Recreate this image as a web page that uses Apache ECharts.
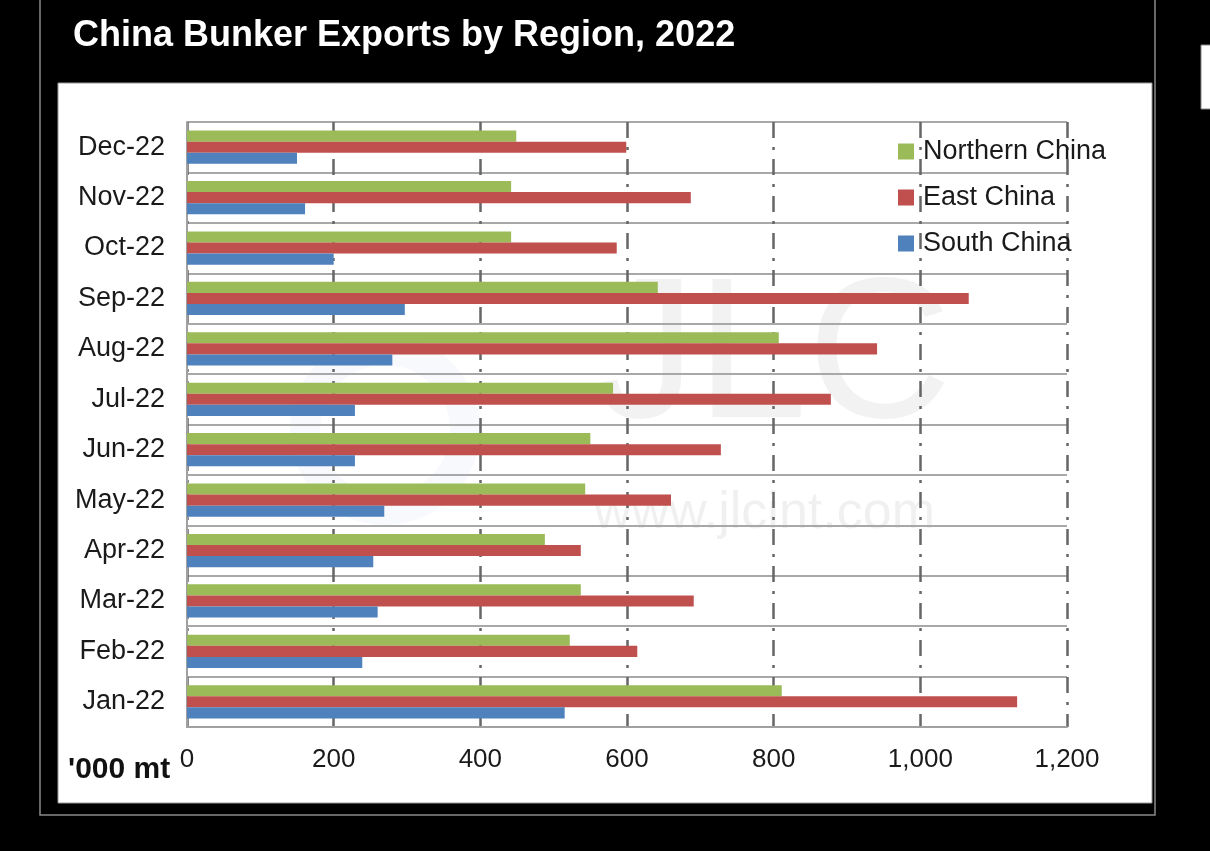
<!DOCTYPE html>
<html>
<head>
<meta charset="utf-8">
<script src="https://cdn.jsdelivr.net/npm/echarts@6/dist/echarts.min.js"></script>
<style>
html,body{margin:0;padding:0;background:#000;}
#c{width:1210px;height:851px;}
</style>
</head>
<body>
<div id="c"></div>
<script>
var categories = ['Jan-22','Feb-22','Mar-22','Apr-22','May-22','Jun-22','Jul-22','Aug-22','Sep-22','Oct-22','Nov-22','Dec-22'];
var northernChina = [811, 522, 537, 488, 543, 550, 581, 807, 642, 442, 442, 449];
var eastChina     = [1132, 614, 691, 537, 660, 728, 878, 941, 1066, 586, 687, 599];
var southChina    = [515, 239, 260, 254, 269, 229, 229, 280, 297, 200, 161, 150];
var xTicks = [0, 200, 400, 600, 800, 1000, 1200];

var chart = echarts.init(document.getElementById('c'));
var font = '"Liberation Sans", Arial, sans-serif';
chart.setOption({
  backgroundColor: '#000',
  animation: false,
  title: {
    text: 'China Bunker Exports by Region, 2022',
    left: 68, top: 13,
    textStyle: {color: '#fff', fontSize: 36, fontWeight: 'bold', fontFamily: font}
  },
  graphic: [
    {type: 'rect', z: -10, shape: {x: 40, y: -2, width: 1115, height: 817}, style: {fill: '#000', stroke: '#8a8a8a', lineWidth: 1.5}},
    {type: 'rect', z: -9, shape: {x: 58, y: 83, width: 1094, height: 720}, style: {fill: '#fff', stroke: '#9a9a9a', lineWidth: 1}},
    {type: 'rect', z: -9, shape: {x: 1201, y: 45, width: 12, height: 64}, style: {fill: '#fff', stroke: '#888', lineWidth: 1}},
    {type: 'text', z: -5, left: 596, top: 262, style: {text: 'JLC', fill: 'rgba(150,150,150,0.12)', font: '200px "Liberation Sans Narrow", "Liberation Sans", Arial, sans-serif'}},
    {type: 'text', z: -5, left: 594, top: 488, style: {text: 'www.jlcint.com', fill: 'rgba(150,150,150,0.14)', font: '52px "Liberation Sans Narrow", "Liberation Sans", Arial, sans-serif'}},
    {type: 'circle', z: -5, shape: {cx: 385, cy: 430, r: 80}, style: {fill: 'none', stroke: 'rgba(120,160,210,0.06)', lineWidth: 30}},
    {type: 'text', z: 5, left: 68, top: 755, style: {text: "'000 mt", fill: '#111', font: 'bold 30px "Liberation Sans", Arial, sans-serif'}}
  ],
  legend: {
    orient: 'vertical',
    left: 893, top: 133,
    itemWidth: 16, itemHeight: 16, itemGap: 19,
    icon: 'rect',
    data: ['Northern China', 'East China', 'South China'],
    textStyle: {fontSize: 27, color: '#1a1a1a', fontFamily: font, padding: [0, 0, 0, 4]}
  },
  grid: {left: 187, right: 143, top: 122, bottom: 124, containLabel: false},
  xAxis: {
    type: 'value', min: 0, max: 1200, interval: 200,
    axisLine: {show: true, lineStyle: {color: '#a0a0a0', width: 2}},
    axisTick: {show: false},
    axisLabel: {
      fontSize: 26, color: '#1a1a1a', fontFamily: font, margin: 20,
      formatter: function (v) { return xTicks.indexOf(v) >= 0 ? v.toLocaleString('en-US') : ''; }
    },
    splitLine: {show: true, lineStyle: {color: '#666', width: 2.5, type: [16, 9, 3, 9]}}
  },
  yAxis: {
    type: 'category', data: categories,
    axisLine: {show: true, lineStyle: {color: '#a0a0a0', width: 2}},
    axisTick: {show: false},
    axisLabel: {fontSize: 27, color: '#1a1a1a', fontFamily: font, margin: 22},
    splitLine: {show: true, lineStyle: {color: '#a8a8a8', width: 2}}
  },
  series: [
    {name: 'Northern China', type: 'bar', data: northernChina, itemStyle: {color: '#9BBB59'}, barGap: '0%', barCategoryGap: '34%', z: 3},
    {name: 'East China', type: 'bar', data: eastChina, itemStyle: {color: '#C0504D'}, barGap: '0%', barCategoryGap: '34%', z: 3},
    {name: 'South China', type: 'bar', data: southChina, itemStyle: {color: '#4F81BD'}, barGap: '0%', barCategoryGap: '34%', z: 3}
  ]
});
</script>
</body>
</html>
